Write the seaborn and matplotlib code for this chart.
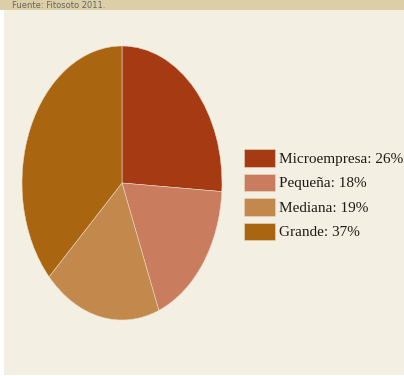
import matplotlib
matplotlib.use("Agg")
import matplotlib.pyplot as plt
import matplotlib.patches as mpatches
import seaborn as sns

categories = ["Microempresa", "Pequeña", "Mediana", "Grande"]
shares = [26, 18, 19, 37]
colors = ["#a63a13", "#c97d5e", "#c3894c", "#a9650f"]
source_text = "Fuente: Fitosoto 2011."

sns.set_theme(style="white")
plt.rcParams["font.family"] = ["Liberation Serif", "DejaVu Serif"]

W, H = 404, 376
fig = plt.figure(figsize=(W / 100, H / 100), dpi=100, facecolor="white")

# background panel and top band
fig.patches.append(mpatches.Rectangle((4 / W, 1 - 375 / H), 400 / W, 365 / H,
                                      transform=fig.transFigure, facecolor="#f3efe3",
                                      edgecolor="none", zorder=-10))
fig.patches.append(mpatches.Rectangle((0, 1 - 10 / H), 1, 10 / H,
                                      transform=fig.transFigure, facecolor="#dccfa8",
                                      edgecolor="none", zorder=-10))
fig.text(12 / W, 1 - 5 / H, source_text, fontsize=6, color="#66645e",
         family=["DejaVu Sans"], va="center", ha="left")

ax = fig.add_axes([22 / W, 1 - 320 / H, 200 / W, 274 / H])
wedges, _ = ax.pie(shares, colors=colors, startangle=90, counterclock=False,
                   wedgeprops=dict(edgecolor="#e8d9c4", linewidth=0.4))
ax.set_aspect("auto")
ax.set_xlim(-1, 1)
ax.set_ylim(-1, 1)
ax.set_facecolor("none")
ax.axis("off")

labels = [f"{c}: {v}%" for c, v in zip(categories, shares)]
leg = fig.legend(wedges, labels, loc="upper left",
                 bbox_to_anchor=(244 / W, 1 - 149 / H), frameon=False,
                 fontsize=11, handlelength=2.0, handleheight=1.4,
                 labelspacing=0.45, handletextpad=0.28, borderpad=0,
                 borderaxespad=0)
for t in leg.get_texts():
    t.set_color("#1f1b16")

fig.savefig("out.png", dpi=100, facecolor="white")
